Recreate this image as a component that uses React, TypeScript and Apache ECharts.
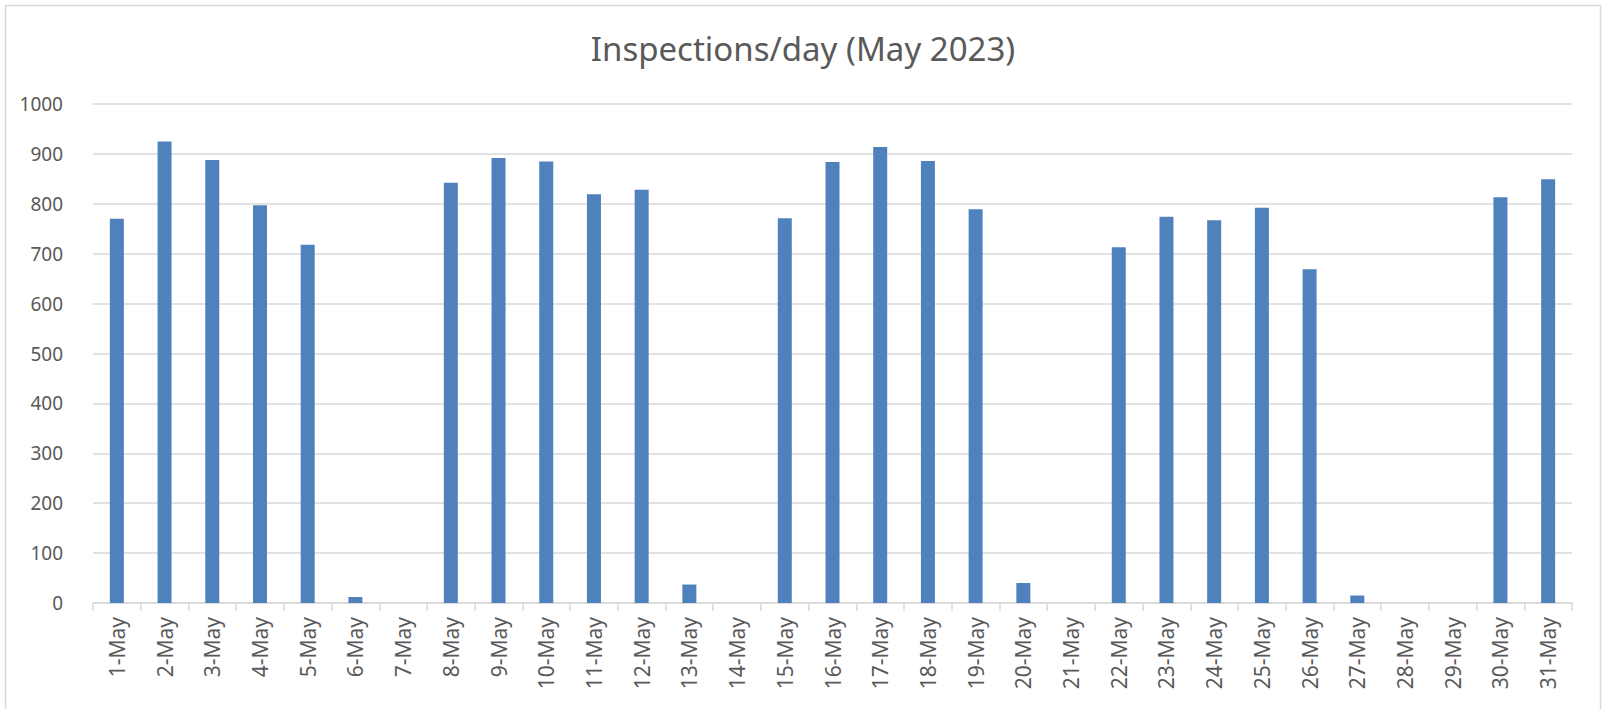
import React, { useEffect, useRef } from "react";
import * as echarts from "echarts";

const chartTitle = "Inspections/day (May 2023)";

const days = [
  "1-May", "2-May", "3-May", "4-May", "5-May", "6-May", "7-May", "8-May",
  "9-May", "10-May", "11-May", "12-May", "13-May", "14-May", "15-May", "16-May",
  "17-May", "18-May", "19-May", "20-May", "21-May", "22-May", "23-May", "24-May",
  "25-May", "26-May", "27-May", "28-May", "29-May", "30-May", "31-May",
];

const inspections = [
  770, 925, 888, 797, 718, 12, 0, 842,
  892, 885, 819, 828, 37, 0, 771, 884,
  914, 886, 789, 40, 0, 713, 774, 767,
  792, 669, 15, 0, 0, 813, 849,
];

const yMin = 0;
const yMax = 1000;
const yStep = 100;

const FONT = "'Noto Sans', 'Open Sans', sans-serif";
const TEXT = "#595959";
const GRID = "#d9d9d9";
const BAR = "#4f81bd";

export default function App() {
  const ref = useRef<HTMLDivElement>(null);

  useEffect(() => {
    if (!ref.current) return;
    const chart = echarts.init(ref.current, null, { renderer: "svg" });
    chart.setOption({
      animation: false,
      backgroundColor: "#ffffff",
      title: {
        text: chartTitle,
        left: "center",
        top: 27,
        textStyle: {
          fontFamily: FONT,
          fontSize: 33,
          fontWeight: "normal",
          color: TEXT,
        },
      },
      graphic: [
        {
          type: "rect",
          z: -10,
          shape: { x: 5.5, y: 5.5, width: 1595, height: 760 },
          style: { fill: "none", stroke: GRID, lineWidth: 1.5 },
          silent: true,
        },
      ],
      grid: { left: 93, right: 34, top: 104, bottom: 106, containLabel: false },
      xAxis: {
        type: "category",
        data: days,
        boundaryGap: true,
        axisLine: { show: true, lineStyle: { color: GRID, width: 1.5 } },
        axisTick: { show: true, length: 8, lineStyle: { color: GRID, width: 1.5 } },
        axisLabel: {
          rotate: 90,
          margin: 14,
          interval: 0,
          fontFamily: FONT,
          fontSize: 21,
          color: TEXT,
        },
        splitLine: { show: false },
      },
      yAxis: {
        type: "value",
        min: yMin,
        max: yMax,
        interval: yStep,
        axisLine: { show: false },
        axisTick: { show: false },
        axisLabel: {
          margin: 30,
          fontFamily: FONT,
          fontSize: 19,
          color: TEXT,
          formatter: (v: number) => String(v),
        },
        splitLine: { show: true, lineStyle: { color: GRID, width: 1.5 } },
      },
      series: [
        {
          type: "bar",
          data: inspections,
          barWidth: 14,
          itemStyle: { color: BAR },
        },
      ],
    });
    return () => chart.dispose();
  }, []);

  return (
    <div
      ref={ref}
      style={{ position: "absolute", left: 0, top: 0, width: 1606, height: 709 }}
    />
  );
}
